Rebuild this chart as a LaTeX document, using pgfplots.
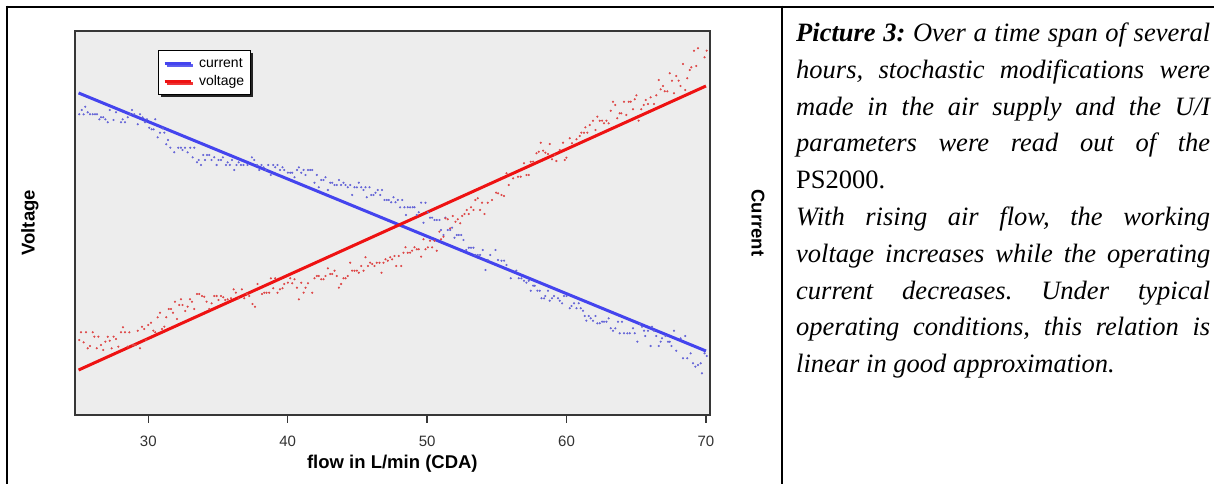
\documentclass[border=0pt]{standalone}
\usepackage{fontspec}
\setmainfont{Liberation Serif}
\setsansfont{Liberation Sans}
\usepackage{pgfplots}
\pgfplotsset{compat=1.18}
\usepackage{pgfplotstable}
\usetikzlibrary{shadows}

\definecolor{panelgray}{RGB}{237,237,237}
\definecolor{framegray}{RGB}{55,55,55}
\definecolor{ticktext}{RGB}{50,50,50}
\definecolor{blueline}{RGB}{68,68,238}
\definecolor{bluedot}{RGB}{100,100,215}
\definecolor{redline}{RGB}{238,18,18}
\definecolor{reddot}{RGB}{222,70,70}

% scatter of the readings, current (x = flow, y = arbitrary units)
\pgfplotstableread{
x y
25.05 300.7
25.22 305.0
25.36 300.7
25.48 308.3
25.65 302.7
25.82 300.7
26.01 300.7
26.18 300.7
26.32 300.7
26.49 295.7
26.61 297.7
26.77 297.7
26.92 295.7
27.09 292.7
27.23 305.0
27.51 295.0
27.68 302.7
28.04 292.7
28.16 295.7
28.33 292.7
28.52 297.7
28.71 300.7
28.83 305.0
28.99 300.7
29.24 290.7
29.40 300.7
29.59 297.7
29.76 292.7
29.90 295.7
30.07 287.3
30.24 285.7
30.38 285.7
30.50 295.7
30.67 277.7
30.84 282.3
31.03 286.7
31.15 282.3
31.29 270.7
31.41 275.0
31.58 267.3
31.86 262.7
32.15 267.3
32.34 267.3
32.46 265.0
32.63 267.3
32.82 262.7
33.01 267.3
33.18 257.7
33.30 267.3
33.49 252.7
33.61 255.0
33.78 250.0
33.94 260.0
34.06 255.0
34.21 260.0
34.37 260.0
34.54 255.0
34.73 257.7
34.90 250.0
35.04 255.0
35.21 255.0
35.35 257.7
35.57 250.0
35.69 252.7
35.85 250.0
36.00 255.0
36.17 245.0
36.33 250.0
36.48 252.7
36.64 250.0
36.83 250.0
37.12 250.0
37.43 257.7
37.60 255.0
37.79 250.0
37.96 245.0
38.12 250.0
38.27 247.7
38.43 245.0
38.60 250.0
38.79 240.0
38.96 250.0
39.10 247.7
39.27 250.0
39.44 245.0
39.63 247.7
39.75 245.0
40.01 242.3
40.18 242.3
40.32 242.3
40.49 237.7
40.66 245.0
40.80 247.7
40.97 242.3
41.14 245.0
41.28 240.0
41.45 245.0
41.61 245.0
41.76 245.0
41.92 232.3
42.09 240.0
42.23 227.7
42.40 235.0
42.57 235.0
42.71 237.7
42.88 225.0
43.05 232.3
43.19 232.3
43.36 230.0
43.52 230.0
43.67 235.0
43.83 230.0
44.00 232.3
44.15 230.0
44.31 227.7
44.48 230.0
44.62 220.0
44.79 227.7
44.96 227.7
45.10 232.3
45.27 227.7
45.44 225.0
45.58 227.7
45.67 217.7
45.87 227.7
45.99 220.0
46.15 220.0
46.30 222.3
46.46 225.0
46.63 220.0
46.77 225.0
46.94 215.0
47.11 215.0
47.25 215.0
47.42 212.7
47.59 217.7
47.73 212.7
47.90 215.0
48.06 207.7
48.21 215.0
48.37 207.7
48.49 200.0
48.61 207.7
48.78 207.7
48.97 207.7
49.09 207.7
49.26 200.0
49.40 202.7
49.57 212.3
49.74 192.3
49.88 212.3
50.05 202.7
50.21 197.3
50.36 197.3
50.53 195.0
50.69 195.0
50.88 195.0
51.00 185.0
51.17 180.0
51.31 197.3
51.48 185.0
51.65 185.0
51.79 187.3
51.96 177.3
52.13 180.0
52.27 180.0
52.44 180.0
52.60 175.0
52.80 165.0
52.99 167.3
53.15 167.3
53.32 167.3
53.46 160.0
53.63 160.0
53.80 160.0
53.99 165.0
54.18 145.0
54.35 155.0
54.52 160.0
54.90 165.0
55.09 155.0
55.33 154.3
55.52 154.3
55.69 150.0
56.00 136.7
56.40 144.3
56.57 136.7
56.76 136.7
56.95 134.3
57.12 132.3
57.29 134.3
57.43 124.3
57.60 129.3
57.72 129.3
57.91 124.3
58.08 124.3
58.20 116.7
58.39 116.7
58.48 119.0
58.67 124.3
58.79 114.3
58.96 116.7
59.10 119.0
59.39 116.7
59.51 114.3
59.68 111.7
59.82 119.0
59.99 119.0
60.23 106.7
60.35 109.0
60.54 111.7
60.71 106.7
60.87 111.7
61.02 106.7
61.18 104.3
61.30 99.0
61.42 94.3
61.59 99.0
61.73 96.7
61.90 94.3
62.07 99.0
62.21 91.7
62.38 91.7
62.55 93.3
62.69 93.3
62.86 93.3
63.02 96.7
63.17 86.7
63.33 84.3
63.50 86.7
63.69 93.3
63.81 81.7
63.98 93.3
64.12 81.7
64.36 81.7
64.53 81.7
64.77 86.7
64.89 81.7
65.08 73.3
65.25 91.0
65.41 88.3
65.56 84.3
65.65 79.0
65.84 84.3
66.03 69.0
66.13 88.3
66.27 84.3
66.44 79.0
66.61 69.0
66.75 73.3
66.85 76.7
67.09 79.0
67.28 73.3
67.40 73.3
67.52 69.0
67.71 84.3
67.87 64.3
68.18 76.7
68.35 56.7
68.52 79.0
68.66 56.7
68.90 61.7
69.07 51.7
69.24 48.3
69.43 50.0
69.62 51.7
69.71 41.7
69.90 61.7
70.05 59.0
}\currentdots

% scatter of the readings, voltage
\pgfplotstableread{
x y
25.05 75.0
25.17 82.7
25.36 72.7
25.53 82.7
25.65 66.7
25.82 69.0
26.01 82.7
26.13 78.3
26.30 66.7
26.42 78.3
26.61 70.0
26.77 65.0
26.92 73.3
27.09 78.3
27.23 74.3
27.37 66.7
27.51 78.3
27.68 76.0
27.85 68.3
28.04 82.7
28.18 87.7
28.33 82.7
28.52 68.3
28.64 82.7
28.88 70.0
28.99 70.0
29.12 70.0
29.24 84.3
29.40 66.7
29.55 88.3
29.71 86.0
29.83 75.0
30.00 90.0
30.19 92.3
30.36 84.3
30.50 82.7
30.67 97.7
30.84 102.3
30.98 86.0
31.15 88.3
31.29 97.7
31.46 106.0
31.63 106.0
31.77 102.3
31.91 113.3
32.05 96.0
32.22 110.0
32.34 115.7
32.46 110.0
32.65 104.0
32.82 108.3
32.99 115.7
33.13 113.3
33.30 106.0
33.49 121.0
33.66 121.0
33.85 119.0
34.01 118.3
34.18 113.3
34.37 106.0
34.54 111.7
34.73 119.0
34.90 119.0
35.04 115.0
35.21 119.0
35.38 117.7
35.52 115.0
35.69 115.7
35.93 116.7
36.12 125.7
36.28 122.3
36.48 116.7
36.71 125.7
36.88 116.7
37.07 121.0
37.24 119.0
37.48 111.0
37.65 108.3
37.84 131.0
38.15 121.0
38.32 122.3
38.48 122.3
38.67 122.3
38.79 136.7
38.96 126.7
39.10 136.7
39.27 122.3
39.44 125.7
39.63 126.7
39.75 131.0
40.01 132.3
40.18 136.7
40.32 131.7
40.49 135.7
40.66 127.3
40.80 115.7
40.97 132.3
41.14 122.3
41.28 127.3
41.45 131.7
41.76 122.3
41.92 136.7
42.09 139.0
42.23 139.0
42.40 135.7
42.57 135.7
42.71 139.0
42.88 146.7
43.05 141.0
43.19 141.0
43.36 144.3
43.52 139.0
43.67 127.3
43.83 131.0
44.00 136.7
44.15 136.7
44.31 139.0
44.48 152.3
44.62 144.3
44.79 144.3
44.96 144.3
45.10 142.3
45.27 149.0
45.44 144.3
45.58 157.7
45.75 149.0
45.91 152.3
46.06 151.0
46.22 149.0
46.39 152.3
46.58 152.3
46.73 142.3
46.87 152.3
47.01 155.7
47.18 154.3
47.35 157.7
47.49 155.7
47.66 159.0
47.78 149.0
47.97 159.0
48.14 149.0
48.30 162.3
48.45 167.7
48.61 162.3
48.78 162.3
48.92 164.3
49.09 167.7
49.26 165.7
49.40 165.7
49.57 158.3
49.74 175.7
49.88 165.7
50.05 167.7
50.21 174.3
50.36 167.7
50.53 174.3
50.69 164.3
50.88 183.3
51.00 175.7
51.17 178.3
51.31 196.7
51.48 195.7
51.65 186.7
51.84 199.0
52.03 193.3
52.20 195.7
52.37 191.7
52.51 199.0
52.68 201.0
52.84 205.0
52.99 201.0
53.15 207.7
53.32 205.0
53.46 215.0
53.63 216.7
53.80 205.0
53.94 212.3
54.11 201.0
54.35 212.3
54.66 215.0
54.95 222.3
55.09 221.7
55.33 220.0
55.52 219.0
55.69 241.7
55.85 230.0
56.17 236.7
56.52 238.3
56.71 238.3
56.95 251.7
57.12 240.0
57.29 240.0
57.43 253.3
57.60 253.3
57.84 261.7
58.01 263.3
58.15 272.3
58.32 264.3
58.48 262.3
58.67 261.0
58.79 271.0
58.96 255.7
59.15 260.0
59.27 254.0
59.51 265.0
59.75 272.3
59.87 255.0
59.99 257.3
60.23 276.7
60.39 271.7
60.71 275.7
60.94 279.0
61.06 282.3
61.25 282.3
61.35 287.7
61.49 282.3
61.66 290.0
61.90 294.3
62.07 285.0
62.21 298.3
62.38 294.3
62.55 294.3
62.69 291.7
62.86 294.3
63.02 291.7
63.17 304.3
63.33 313.3
63.50 310.0
63.64 296.7
63.81 301.7
63.93 301.7
64.12 313.3
64.29 300.0
64.46 313.3
64.60 313.3
64.77 305.7
64.89 315.7
65.01 319.7
65.17 294.3
65.36 305.7
65.53 310.0
65.68 315.0
65.84 311.0
66.03 317.7
66.27 311.0
66.44 319.7
66.61 335.0
66.75 325.7
66.92 329.0
67.04 323.7
67.23 323.7
67.40 341.7
67.56 334.3
67.71 321.7
67.87 339.0
68.04 334.3
68.18 329.0
68.35 351.0
68.52 325.0
68.66 336.7
68.83 345.0
68.95 347.7
69.14 364.3
69.31 349.0
69.43 366.7
69.90 357.7
70.05 364.3
}\voltagedots

\begin{document}
\begin{tikzpicture}
\fill[white, use as bounding box] (0pt,0pt) rectangle (1214pt,484pt);

% table rules of the page
\draw[line width=2.5pt] (5.75pt,477pt) -- (1214pt,477pt);
\draw[line width=2.5pt] (7pt,478.25pt) -- (7pt,0pt);
\draw[line width=2.5pt] (782pt,478.25pt) -- (782pt,0pt);

\begin{axis}[
  at={(74.7pt,69pt)}, anchor=south west,
  width=635.3pt, height=384.3pt, scale only axis,
  xmin=24.72, xmax=70.29, ymin=0, ymax=384.3,
  xtick={30,40,50,60,70}, ytick=\empty,
  xtick pos=bottom, tick align=outside, major tick length=8pt,
  every tick/.style={framegray, line width=1.3pt},
  axis line style={draw=framegray, line width=1.8pt},
  axis background/.style={fill=panelgray},
  /pgf/number format/assume math mode=true,
  xticklabel style={font=\fontsize{15}{16}\sffamily, text=ticktext, yshift=-9pt},
  xlabel={flow in L/min (CDA)},
  xlabel style={font=\fontsize{18.5}{20}\sffamily\bfseries,
    at={(axis description cs:0.5,-0.138)}, anchor=base},
  ylabel={Voltage},
  ylabel style={font=\fontsize{18.5}{20}\sffamily\bfseries,
    at={(axis description cs:-0.0705,0.5)}, anchor=center},
  legend style={at={(axis description cs:0.1311,0.9498)}, anchor=north west,
    draw=black, line width=1.2pt, fill=white,
    font=\fontsize{14}{16}\sffamily,
    drop shadow={shadow xshift=2pt, shadow yshift=-2pt, fill=black, opacity=0.85},
    inner xsep=4.5pt, inner ysep=4.5pt, row sep=0pt,
    nodes={inner sep=2pt, text height=10.5pt, text depth=3pt},
    /tikz/every odd column/.append style={column sep=5pt}},
  legend cell align=left,
  legend image code/.code={\draw[#1, line width=3pt] (0pt,0pt) -- (26pt,0pt);},
]
\addplot[only marks, mark=*, mark size=0.85pt, color=bluedot, forget plot] table {\currentdots};
\addplot[only marks, mark=*, mark size=0.85pt, color=reddot, forget plot] table {\voltagedots};
\addplot[blueline, line width=3pt] coordinates {(25,322) (70,64)};
\addlegendentry{current}
\addplot[redline, line width=3pt] coordinates {(25,45) (70,329)};
\addlegendentry{voltage}
\end{axis}

\node[rotate=-90, font=\fontsize{18.5}{20}\sffamily\bfseries] at (758pt,261.1pt) {Current};

\node[anchor=base west, inner sep=0pt] at (796pt,442.5pt) {\parbox[t]{414pt}{%
\fontsize{26.5}{36.8}\selectfont\itshape\frenchspacing
\textbf{Picture 3:} Over a time span of several\linebreak
hours, stochastic modifications were\linebreak
made in the air supply and the U/I\linebreak
parameters were read out of the\linebreak
\textup{PS2000.}\par
With rising air flow, the working\linebreak
voltage increases while the operating\linebreak
current decreases. Under typical\linebreak
operating conditions, this relation is\linebreak
linear in good approximation.}};
\end{tikzpicture}
\end{document}
